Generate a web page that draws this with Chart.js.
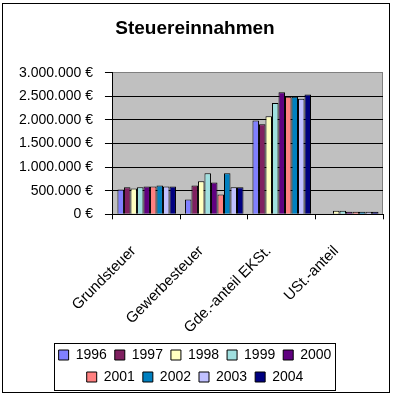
<!DOCTYPE html>
<html>
<head>
<meta charset="utf-8">
<script src="https://cdn.jsdelivr.net/npm/chart.js@4/dist/chart.umd.min.js"></script>
<style>
  body { margin: 0; background: #fff; }
  canvas { display: block; }
</style>
</head>
<body>
<canvas id="taxChart" width="394" height="397"></canvas>
<script>
const categories = ["Grundsteuer", "Gewerbesteuer", "Gde.-anteil EKSt.", "USt.-anteil"];
const years = ["1996", "1997", "1998", "1999", "2000", "2001", "2002", "2003", "2004"];

// values per year, one entry per category (EUR)
const v1996 = [527000, 313000, 1990000, null];
const v1997 = [576000, 610000, 1910000, null];
const v1998 = [548000, 700000, 2080000, 78000];
const v1999 = [576000, 870000, 2360000, 78000];
const v2000 = [590000, 676000, 2590000, 57000];
const v2001 = [590000, 420000, 2490000, 57000];
const v2002 = [610000, 870000, 2490000, 57000];
const v2003 = [590000, 576000, 2450000, 57000];
const v2004 = [590000, 576000, 2540000, 57000];

const yTicks = [0, 500000, 1000000, 1500000, 2000000, 2500000, 3000000];

const colors = ["#8080FF", "#802060", "#FFFFC0", "#A0E0E0", "#600080",
                "#FF8080", "#0080C0", "#C0C0FF", "#000080"];
const series = [v1996, v1997, v1998, v1999, v2000, v2001, v2002, v2003, v2004];

const FONT = "'Liberation Sans', Arial, sans-serif";

function euro(v) {
  return String(v).replace(/\B(?=(\d{3})+(?!\d))/g, ".") + " €";
}

// gray plot background and plot frame
const plotFrame = {
  id: "plotFrame",
  beforeDraw(chart) {
    const { ctx, chartArea: a } = chart;
    ctx.save();
    ctx.fillStyle = "#C0C0C0";
    ctx.fillRect(a.left, a.top, a.right - a.left, a.bottom - a.top);
    ctx.strokeStyle = "#808080";
    ctx.lineWidth = 1;
    ctx.beginPath();
    ctx.moveTo(Math.round(a.right) - 0.5, a.top);
    ctx.lineTo(Math.round(a.right) - 0.5, a.bottom);
    ctx.stroke();
    ctx.restore();
  },
  afterDraw(chart) {
    const ctx = chart.ctx;
    ctx.save();
    ctx.strokeStyle = "#000";
    ctx.lineWidth = 1;
    ctx.strokeRect(2.5, 3.5, 387, 389);

    // frame round the legend
    const boxes = chart.legend.legendHitBoxes;
    if (boxes && boxes.length) {
      const left = Math.min(...boxes.map(b => b.left));
      const right = Math.max(...boxes.map(b => b.left + b.width));
      const top = Math.min(...boxes.map(b => b.top));
      const bottom = Math.max(...boxes.map(b => b.top + b.height));
      ctx.strokeRect(Math.round(left - 5) + 0.5, Math.round(top - 5) + 0.5,
        Math.round(right - left + 8), Math.round(bottom - top + 11));
    }
    ctx.restore();
  }
};

// keep five legend entries per row
const legendRows = {
  id: "legendRows",
  afterInit(chart) {
    const legend = chart.legend;
    const update = legend.update.bind(legend);
    legend.update = (maxWidth, maxHeight, margins) => update(Math.min(maxWidth, 300), maxHeight, margins);
  }
};

const taxChart = new Chart(document.getElementById("taxChart"), {
  type: "bar",
  data: {
    labels: categories,
    datasets: years.map((year, i) => ({
      label: year,
      data: series[i],
      backgroundColor: colors[i],
      borderColor: "#000",
      borderWidth: 1,
      categoryPercentage: 0.867,
      barPercentage: 1
    }))
  },
  options: {
    responsive: false,
    animation: false,
    layout: {
      padding: { left: 7, right: 11, top: 0, bottom: 3 }
    },
    plugins: {
      title: {
        display: true,
        text: "Steuereinnahmen",
        color: "#000",
        font: { family: FONT, size: 19, weight: "bold" },
        padding: { top: 17, bottom: 33 }
      },
      legend: {
        position: "bottom",
        labels: {
          color: "#000",
          font: { family: FONT, size: 14 },
          boxWidth: 10,
          boxHeight: 10,
          padding: 8
        }
      },
      tooltip: { enabled: false }
    },
    scales: {
      x: {
        grid: {
          display: true,
          drawOnChartArea: false,
          color: "#000",
          tickLength: 5,
          offset: true
        },
        border: { display: true, color: "#000" },
        ticks: {
          color: "#000",
          font: { family: FONT, size: 15 },
          minRotation: 45,
          maxRotation: 45,
          padding: 23,
          labelOffset: -13,
          autoSkip: false
        },
        afterFit(scale) {
          scale.height -= 20;
        }
      },
      y: {
        min: 0,
        max: 3000000,
        afterBuildTicks(scale) {
          scale.ticks = yTicks.map(v => ({ value: v }));
        },
        grid: {
          color: ctx => (ctx.tick && ctx.tick.value === 3000000 ? "#808080" : "#000"),
          tickColor: "#000",
          tickLength: 8
        },
        border: { display: true, color: "#000" },
        ticks: {
          color: "#000",
          font: { family: FONT, size: 14 },
          padding: 12,
          callback: v => euro(v)
        }
      }
    }
  },
  plugins: [plotFrame, legendRows]
});
</script>
</body>
</html>
